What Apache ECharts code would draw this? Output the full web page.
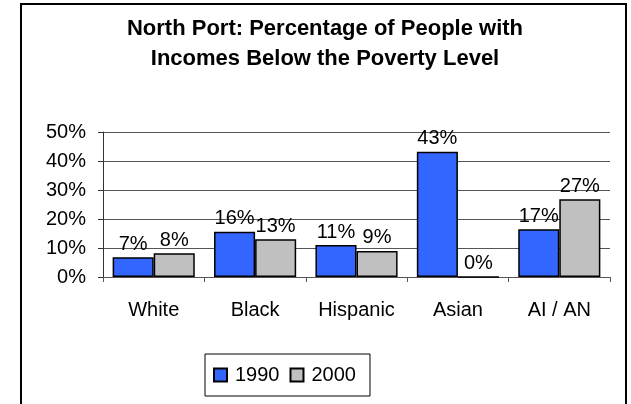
<!DOCTYPE html>
<html>
<head>
<meta charset="utf-8">
<script src="https://cdn.jsdelivr.net/npm/echarts@6/dist/echarts.min.js"></script>
<style>
  html, body { margin: 0; padding: 0; background: #FFF; }
  #myBar { width: 631px; height: 404px; }
</style>
</head>
<body>
<div id="myBar"></div>
<script>
  // 数据
  var categories = ['White', 'Black', 'Hispanic', 'Asian', 'AI / AN'];
  var values1990 = [6.8, 15.6, 11, 43.2, 16.5];
  var values2000 = [8.2, 13, 9, 0, 26.8];
  var seriesNames = ['1990', '2000'];

  var font = 'Liberation Sans, Arial, sans-serif';
  var myBar = echarts.init(document.getElementById('myBar'));

  var labelStyle = {
    show: true,
    position: 'top',
    distance: 3,
    color: '#000',
    fontSize: 20,
    fontFamily: font,
    formatter: function (p) { return Math.round(p.value) + '%'; }
  };

  var option = {
    backgroundColor: '#FFF',
    animation: false,
    title: {
      text: 'North Port: Percentage of People with\nIncomes Below the Poverty Level',
      left: 320,
      textAlign: 'center',
      top: 9,
      textStyle: {
        fontFamily: font,
        fontWeight: 'bold',
        fontSize: 22,
        lineHeight: 30,
        color: '#000'
      }
    },
    graphic: [{
      type: 'rect',
      shape: { x: 21, y: 4, width: 605, height: 420 },
      style: { fill: 'none', stroke: '#000', lineWidth: 2 },
      silent: true
    }],
    legend: {
      data: seriesNames,
      left: 205,
      top: 354,
      orient: 'horizontal',
      padding: [11, 14, 11, 8],
      itemGap: 10,
      itemWidth: 13,
      itemHeight: 13,
      borderColor: '#000',
      borderWidth: 1,
      icon: 'rect',
      textStyle: { fontFamily: font, fontSize: 20, color: '#000', padding: [0, 0, 0, 3] }
    },
    grid: {
      left: 103,
      right: 21,
      top: 132,
      bottom: 127,
      containLabel: false
    },
    xAxis: {
      type: 'category',
      data: categories,
      axisLine: { lineStyle: { color: '#555', width: 1 } },
      axisTick: { show: true, length: 5, lineStyle: { color: '#555' } },
      axisLabel: {
        color: '#000',
        fontSize: 20,
        fontFamily: font,
        margin: 23
      },
      splitLine: { show: false }
    },
    yAxis: {
      type: 'value',
      min: 0,
      max: 50,
      interval: 10,
      axisLine: { show: true, lineStyle: { color: '#333', width: 1 } },
      axisTick: { show: true, length: 5, lineStyle: { color: '#333' } },
      axisLabel: {
        color: '#000',
        fontSize: 20,
        fontFamily: font,
        margin: 17,
        formatter: '{value}%'
      },
      splitLine: { show: true, lineStyle: { color: '#555', width: 1 } }
    },
    series: [
      {
        name: seriesNames[0],
        type: 'bar',
        data: values1990,
        barGap: '0%',
        barCategoryGap: '19%',
        itemStyle: { color: '#3366FF', borderColor: '#000', borderWidth: 1.5 },
        label: labelStyle
      },
      {
        name: seriesNames[1],
        type: 'bar',
        data: values2000,
        barGap: '0%',
        barCategoryGap: '19%',
        itemStyle: { color: '#C0C0C0', borderColor: '#000', borderWidth: 1.5 },
        label: labelStyle
      }
    ]
  };

  myBar.setOption(option);
</script>
</body>
</html>
